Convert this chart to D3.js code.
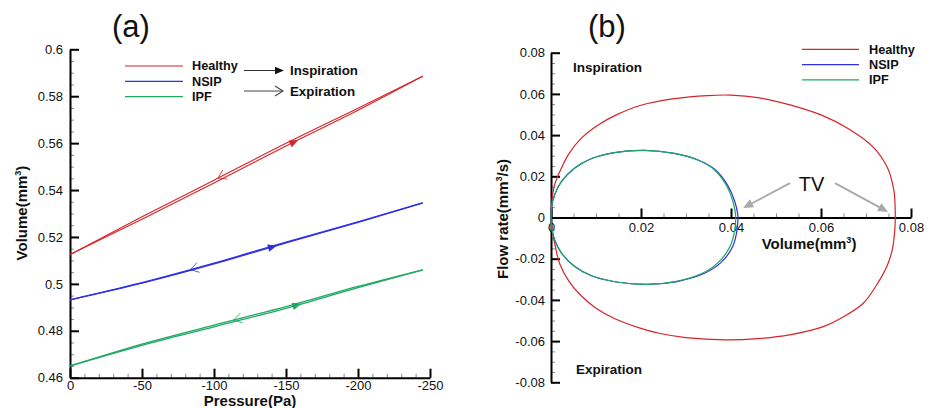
<!DOCTYPE html>
<html>
<head>
<meta charset="utf-8" />
<script src="https://d3js.org/d3.v7.min.js"></script>
<style>
  body { margin: 0; background: #fff; }
  svg { display: block; }
</style>
</head>
<body>
<div class="container"></div>
<script>
  // ---- panel (a): pressure-volume ----
  const pressure = [0, -50, -100, -150, -200, -245];
  const healthyInsp = [0.5125, 0.5275, 0.543, 0.5588, 0.574, 0.5885];
  const healthyExp = [0.5125, 0.5286, 0.5442, 0.5599, 0.5749, 0.5885];
  const nsipInsp = [0.4932, 0.5003, 0.5085, 0.5175, 0.5262, 0.5345];
  const nsipExp = [0.4932, 0.5005, 0.5088, 0.5178, 0.5264, 0.5345];
  const ipfInsp = [0.465, 0.4738, 0.4817, 0.4896, 0.4984, 0.506];
  const ipfExp = [0.465, 0.4743, 0.4824, 0.4903, 0.4989, 0.506];
  const pressureTicks = [0, -50, -100, -150, -200, -250];
  const volumeTicks = [0.46, 0.48, 0.5, 0.52, 0.54, 0.56, 0.58, 0.6];
  // pressure where the direction arrows sit
  const inspArrowP = [-156, -141, -158];
  const expArrowP = [-104, -85, -115];

  // ---- panel (b): flow-volume loops (inspiration half, then expiration half) ----
  const healthyLoopV = [0, 0.0002, 0.0008, 0.0023, 0.004, 0.0067, 0.0104, 0.0145, 0.02, 0.0274, 0.0348, 0.04,
    0.046, 0.0531, 0.06, 0.066, 0.0716, 0.0748, 0.0762, 0.0765,
    0.0764, 0.0758, 0.0746, 0.072, 0.0694, 0.065, 0.0605, 0.053, 0.046, 0.0387, 0.03, 0.024, 0.0198, 0.0141,
    0.01, 0.0067, 0.004, 0.002, 0.0008, 0.0002];
  const healthyLoopQ = [0, 0.008, 0.0158, 0.0239, 0.031, 0.0384, 0.0448, 0.0498, 0.0545, 0.0577, 0.0592, 0.0594,
    0.0582, 0.0547, 0.0498, 0.0432, 0.0342, 0.024, 0.013, 0.003,
    -0.006, -0.016, -0.0239, -0.034, -0.0416, -0.0482, -0.053, -0.057, -0.0588, -0.0594, -0.0583, -0.0562, -0.0537, -0.049,
    -0.044, -0.038, -0.031, -0.0228, -0.0125, -0.005];
  const nsipLoopV = [0, 0.0001, 0.0008, 0.0023, 0.0052, 0.0089, 0.0141, 0.0208, 0.0274, 0.0327, 0.0365, 0.0393, 0.0408, 0.0415,
    0.0414, 0.0404, 0.0378, 0.034, 0.028, 0.0213, 0.0145, 0.009, 0.0052, 0.0023, 0.0008, 0.0001];
  const nsipLoopQ = [0, 0.005, 0.011, 0.0174, 0.0239, 0.0285, 0.0315, 0.0326, 0.0311, 0.0279, 0.0232, 0.0155, 0.008, 0.0015,
    -0.005, -0.014, -0.0218, -0.0272, -0.0311, -0.0325, -0.0313, -0.0283, -0.0237, -0.0172, -0.0108, -0.0045];
  const ipfLoopV = [0, 0.0001, 0.0008, 0.0023, 0.0052, 0.0089, 0.0141, 0.0208, 0.0274, 0.0326, 0.0363, 0.039, 0.0404, 0.041,
    0.0409, 0.0398, 0.0372, 0.0335, 0.0276, 0.0212, 0.0145, 0.009, 0.0052, 0.0023, 0.0008, 0.0001];
  const ipfLoopQ = [0, 0.005, 0.011, 0.0174, 0.0239, 0.0285, 0.0315, 0.0326, 0.0311, 0.0279, 0.0232, 0.0155, 0.008, 0.0015,
    -0.005, -0.014, -0.0218, -0.0272, -0.0311, -0.0325, -0.0313, -0.0283, -0.0237, -0.0172, -0.0108, -0.0045];
  const loopVolumeTicks = [0, 0.02, 0.04, 0.06, 0.08];
  const flowTicks = [-0.08, -0.06, -0.04, -0.02, 0, 0.02, 0.04, 0.06, 0.08];

  const names = ["Healthy", "NSIP", "IPF"];
  const colors = ["#d8232a", "#2f2fe6", "#1fa862"];
  const font = "'Liberation Sans', Arial, sans-serif";

  const svg = d3.select(".container").append("svg")
    .attr("width", 930).attr("height", 408)
    .attr("font-family", font);

  function addAxis(make, scale, major, minor, pad, transform) {
    const gm = svg.append("g").attr("transform", transform)
      .call(make(scale).tickValues(minor).tickSize(-4).tickSizeOuter(0).tickFormat(""));
    gm.select(".domain").remove();
    gm.selectAll("line").attr("stroke", "#8a8a8a").attr("stroke-width", 1);
    const g = svg.append("g").attr("transform", transform)
      .call(make(scale).tickValues(major).tickSize(-9).tickSizeOuter(0).tickPadding(pad).tickFormat((d) => String(d)));
    g.attr("font-family", font).attr("font-size", 13);
    g.select(".domain").attr("stroke-width", 2);
    g.selectAll(".tick line").attr("stroke-width", 2);
    g.selectAll("text").attr("fill", "#111");
    return g;
  }

  function supLabel(x, y, main, tail, rotate) {
    const t = svg.append("text")
      .attr("transform", `translate(${x},${y})` + (rotate ? " rotate(-90)" : ""))
      .attr("text-anchor", "middle")
      .attr("font-weight", "bold")
      .attr("font-size", 15)
      .attr("fill", "#111");
    t.append("tspan").text(main);
    t.append("tspan").attr("font-size", 9).attr("dy", -6).text("3");
    t.append("tspan").attr("dy", 6).text(tail);
  }

  // ================= (a) =================
  const xA = d3.scaleLinear().domain([0, -250]).range([70, 430]);
  const yA = d3.scaleLinear().domain([0.46, 0.6]).range([377.7, 49.3]);

  addAxis(d3.axisBottom, xA, pressureTicks, d3.range(0, -251, -10), 3, "translate(0,377.7)");
  addAxis(d3.axisLeft, yA, volumeTicks, d3.range(0.46, 0.6001, 0.005), 7, "translate(70,0)");

  svg.append("text").attr("x", 131).attr("y", 37).attr("text-anchor", "middle")
    .attr("font-size", 31).attr("fill", "#111").text("(a)");
  svg.append("text").attr("x", 250).attr("y", 406).attr("text-anchor", "middle")
    .attr("font-size", 15).attr("font-weight", "bold").attr("fill", "#111").text("Pressure(Pa)");
  supLabel(27, 213, "Volume(mm", ")", true);

  const lineA = d3.line().x((d) => xA(d[0])).y((d) => yA(d[1])).curve(d3.curveMonotoneX);
  const branchesA = [
    [healthyInsp, healthyExp],
    [nsipInsp, nsipExp],
    [ipfInsp, ipfExp],
  ];

  branchesA.forEach((br, i) => {
    const g = svg.append("g").attr("fill", "none").attr("stroke", colors[i]);
    br.forEach((vals) => {
      g.append("path")
        .attr("stroke-width", i === 0 ? 1.1 : 1.3)
        .attr("d", lineA(d3.zip(pressure, vals)));
    });
    // direction markers: filled = inspiration (towards -P), open = expiration (towards 0)
    [[br[0], inspArrowP[i], -1, true], [br[1], expArrowP[i], 1, false]].forEach(([vals, p, dir, filled]) => {
      const f = d3.scaleLinear().domain(pressure).range(vals);
      const x0 = xA(p), y0 = yA(f(p));
      const ang = Math.atan2(yA(f(p + dir * 5)) - y0, xA(p + dir * 5) - x0) * 180 / Math.PI;
      const a = svg.append("path")
        .attr("transform", `translate(${x0},${y0}) rotate(${ang})`);
      if (filled) {
        a.attr("d", "M4,0L-5,-3.8L-5,3.8Z").attr("fill", colors[i]);
      } else {
        a.attr("d", "M-6,-5L2,0L-6,5").attr("fill", "none")
          .attr("stroke", colors[i]).attr("stroke-width", 0.9).attr("opacity", 0.8);
      }
    });
  });

  // legend (a)
  names.forEach((n, i) => {
    const y = 66 + i * 15.3;
    svg.append("line").attr("x1", 125).attr("x2", 183).attr("y1", y).attr("y2", y)
      .attr("stroke", colors[i]).attr("stroke-width", 1.2);
    svg.append("text").attr("x", 192).attr("y", y + 4.3).attr("font-size", 12.7)
      .attr("font-weight", "bold").attr("fill", "#111").text(n);
  });
  svg.append("line").attr("x1", 244).attr("x2", 277).attr("y1", 70.5).attr("y2", 70.5)
    .attr("stroke", "#333").attr("stroke-width", 1.1);
  svg.append("path").attr("d", "M284,70.5L275,66.8L275,74.2Z").attr("fill", "#111");
  svg.append("line").attr("x1", 244).attr("x2", 283).attr("y1", 91).attr("y2", 91)
    .attr("stroke", "#444").attr("stroke-width", 1.1);
  svg.append("path").attr("d", "M275,86L283,91L275,96").attr("fill", "none")
    .attr("stroke", "#444").attr("stroke-width", 1.1);
  svg.append("text").attr("x", 290).attr("y", 74.7).attr("font-size", 13.3)
    .attr("font-weight", "bold").attr("fill", "#111").text("Inspiration");
  svg.append("text").attr("x", 290).attr("y", 95.5).attr("font-size", 13.3)
    .attr("font-weight", "bold").attr("fill", "#111").text("Expiration");

  // ================= (b) =================
  const xB = d3.scaleLinear().domain([0, 0.08]).range([551, 911]);
  const yB = d3.scaleLinear().domain([-0.08, 0.08]).range([382.3, 52.7]);

  addAxis(d3.axisBottom, xB, loopVolumeTicks, d3.range(0, 0.0801, 0.005), 5, `translate(0,${yB(0)})`);
  addAxis(d3.axisLeft, yB, flowTicks, d3.range(-0.08, 0.0801, 0.005), 6, "translate(551,0)");

  svg.append("text").attr("x", 607).attr("y", 37).attr("text-anchor", "middle")
    .attr("font-size", 31).attr("fill", "#111").text("(b)");
  supLabel(809, 249, "Volume(mm", ")", false);
  supLabel(508, 219, "Flow rate(mm", "/s)", true);
  svg.append("text").attr("x", 573).attr("y", 72.3).attr("font-size", 13.5)
    .attr("font-weight", "bold").attr("fill", "#111").text("Inspiration");
  svg.append("text").attr("x", 576).attr("y", 374).attr("font-size", 13.5)
    .attr("font-weight", "bold").attr("fill", "#111").text("Expiration");

  const loopLine = d3.line().x((d) => xB(d[0])).y((d) => yB(d[1])).curve(d3.curveCatmullRomClosed.alpha(0.5));
  const loops = [
    [healthyLoopV, healthyLoopQ],
    [nsipLoopV, nsipLoopQ],
    [ipfLoopV, ipfLoopQ],
  ];
  svg.append("g").attr("fill", "none")
    .selectAll("path")
    .data(loops)
    .join("path")
    .attr("stroke", (d, i) => colors[i])
    .attr("stroke-width", 1.2)
    .attr("d", (d) => loopLine(d3.zip(d[0], d[1])));

  // legend (b)
  names.forEach((n, i) => {
    const y = 49.3 + i * 15.3;
    svg.append("line").attr("x1", 802).attr("x2", 859).attr("y1", y).attr("y2", y)
      .attr("stroke", colors[i]).attr("stroke-width", 1.2);
    svg.append("text").attr("x", 869).attr("y", y + 4.3).attr("font-size", 12.7)
      .attr("font-weight", "bold").attr("fill", "#111").text(n);
  });

  // tidal volume annotation
  const tvText = [0.0579, 0.0131];
  const tvArrows = [
    [[0.0531, 0.0167], [0.0427, 0.0046]],
    [[0.0631, 0.0167], [0.0749, 0.0027]],
  ];
  svg.append("text").attr("x", xB(tvText[0])).attr("y", yB(tvText[1]))
    .attr("text-anchor", "middle").attr("font-size", 20).attr("fill", "#111").text("TV");
  tvArrows.forEach(([from, to]) => {
    const x1 = xB(from[0]), y1 = yB(from[1]), x2 = xB(to[0]), y2 = yB(to[1]);
    const ang = Math.atan2(y2 - y1, x2 - x1);
    const bx = x2 - 9 * Math.cos(ang), by = y2 - 9 * Math.sin(ang);
    svg.append("line").attr("x1", x1).attr("y1", y1).attr("x2", bx).attr("y2", by)
      .attr("stroke", "#a9a9a9").attr("stroke-width", 1.8);
    svg.append("path")
      .attr("transform", `translate(${x2},${y2}) rotate(${ang * 180 / Math.PI})`)
      .attr("d", "M0,0L-10,-4.5L-10,4.5Z").attr("fill", "#a9a9a9");
  });
</script>
</body>
</html>
